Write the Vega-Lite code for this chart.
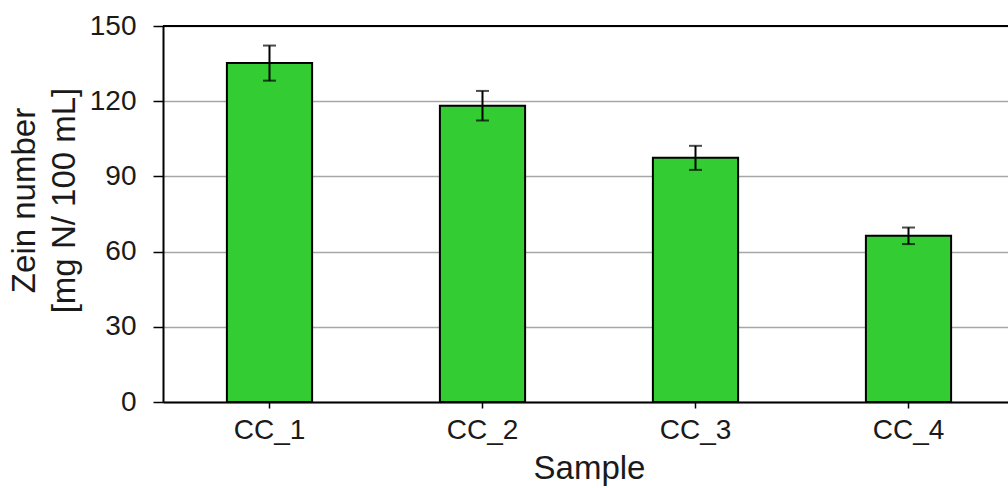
{
  "$schema": "https://vega.github.io/schema/vega-lite/v6.json",
  "autosize": {"type": "none"},
  "padding": {"left": 163, "top": 26, "right": 0, "bottom": 86},
  "width": 845,
  "height": 376,
  "background": "white",
  "config": {
    "view": {"stroke": null},
    "font": "Liberation Sans",
    "axis": {
      "labelFont": "Liberation Sans",
      "titleFont": "Liberation Sans",
      "labelFontSize": 28,
      "titleFontSize": 33,
      "labelColor": "#1a1a1a",
      "titleColor": "#1a1a1a",
      "titleFontWeight": "normal",
      "domainColor": "black",
      "domainWidth": 2,
      "tickColor": "black",
      "tickWidth": 1.5
    }
  },
  "data": {
    "values": [
      {"Sample": "CC_1", "value": 135.2, "err": 7.0},
      {"Sample": "CC_2", "value": 118.2, "err": 5.9},
      {"Sample": "CC_3", "value": 97.4, "err": 4.8},
      {"Sample": "CC_4", "value": 66.3, "err": 3.3}
    ]
  },
  "layer": [
    {
      "mark": {"type": "bar", "color": "#33cc33", "stroke": "black", "strokeWidth": 2},
      "encoding": {
        "x": {
          "field": "Sample",
          "type": "nominal",
          "sort": null,
          "scale": {"range": [0, 852], "paddingInner": 0.6, "paddingOuter": 0.3},
          "axis": {
            "title": "Sample",
            "labelAngle": 0,
            "tickSize": 6,
            "labelPadding": 8,
            "titlePadding": 8,
            "grid": false
          }
        },
        "y": {
          "field": "value",
          "type": "quantitative",
          "scale": {"domain": [0, 150], "nice": false, "zero": true},
          "axis": {
            "title": ["Zein number", "[mg N/ 100 mL]"],
            "values": [0, 30, 60, 90, 120, 150],
            "tickSize": 10,
            "labelPadding": 17,
            "titlePadding": 8,
            "titleLineHeight": 40,
            "titleY": 174,
            "grid": true,
            "gridColor": "#a6a6a6",
            "gridWidth": 1.5
          }
        }
      }
    },
    {
      "mark": {"type": "errorbar", "ticks": {"size": 13, "thickness": 2, "color": "black"}, "rule": {"strokeWidth": 2, "color": "black"}},
      "encoding": {
        "x": {"field": "Sample", "type": "nominal", "sort": null},
        "y": {"field": "value", "type": "quantitative", "title": ["Zein number", "[mg N/ 100 mL]"]},
        "yError": {"field": "err"}
      }
    },
    {
      "mark": {"type": "rule", "color": "black", "strokeWidth": 2},
      "encoding": {"y": {"datum": 150, "type": "quantitative"}}
    }
  ]
}
